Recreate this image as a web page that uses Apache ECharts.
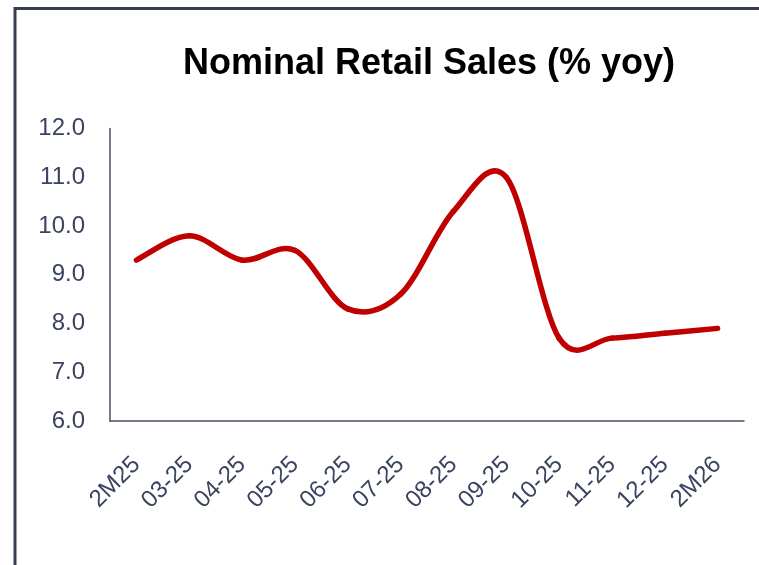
<!DOCTYPE html>
<html>
<head>
<meta charset="utf-8">
<script src="https://cdn.jsdelivr.net/npm/echarts@6.0.0/dist/echarts.min.js"></script>
<style>
html,body{margin:0;padding:0;background:#fff;}
#chart{width:759px;height:565px;}
</style>
</head>
<body>
<div id="chart"></div>
<script>
// Data
const categories = ['2M25','03-25','04-25','05-25','06-25','07-25','08-25','09-25','10-25','11-25','12-25','2M26'];
const retailSalesYoy = [9.3, 9.8, 9.3, 9.5, 8.3, 8.6, 10.3, 11.0, 7.7, 7.7, 7.8, 7.9];
const yMin = 6, yMax = 12, yStep = 1;
const chartTitle = 'Nominal Retail Sales (% yoy)';

const axisColor = '#4a5166';
const labelColor = '#3a4460';
const lineColor = '#C00000';
const fontFamily = "'Liberation Sans', Arial, Helvetica, sans-serif";

const chart = echarts.init(document.getElementById('chart'), null, {renderer: 'canvas'});

// smooth (Excel-like) curve, every segment built from the data through the axes
function renderSegment(params, api) {
  const n = retailSalesYoy.length;
  const i = params.dataIndex;
  if (i >= n - 1) return null;
  const pt = function (k) {
    k = Math.max(0, Math.min(n - 1, k));
    return api.coord([k, retailSalesYoy[k]]);
  };
  const p0 = pt(i - 1), p1 = pt(i), p2 = pt(i + 1), p3 = pt(i + 2);
  const c1 = [p1[0] + (p2[0] - p0[0]) / 6, p1[1] + (p2[1] - p0[1]) / 6];
  const c2 = [p2[0] - (p3[0] - p1[0]) / 6, p2[1] - (p3[1] - p1[1]) / 6];
  return {
    type: 'bezierCurve',
    shape: {x1: p1[0], y1: p1[1], x2: p2[0], y2: p2[1], cpx1: c1[0], cpy1: c1[1], cpx2: c2[0], cpy2: c2[1]},
    style: {stroke: lineColor, lineWidth: 5.5, fill: 'none', lineCap: 'round'}
  };
}

chart.setOption({
  animation: false,
  backgroundColor: '#ffffff',
  title: {
    text: chartTitle,
    left: 424,
    top: 41,
    textAlign: 'center',
    textStyle: {fontFamily: fontFamily, fontWeight: 'bold', fontSize: 36, color: '#000000'}
  },
  graphic: [
    {type: 'line', shape: {x1: 14, y1: 8.5, x2: 759, y2: 8.5}, style: {stroke: '#363d50', lineWidth: 3}},
    {type: 'line', shape: {x1: 15, y1: 7, x2: 15, y2: 565}, style: {stroke: '#363d50', lineWidth: 3}}
  ],
  grid: {left: 110, right: 15, top: 128.5, bottom: 144, containLabel: false},
  xAxis: {
    type: 'category',
    data: categories,
    boundaryGap: true,
    axisLine: {show: true, lineStyle: {color: axisColor, width: 1.5}},
    axisTick: {show: false},
    axisLabel: {rotate: 45, margin: 40, interval: 0, color: labelColor, fontSize: 24, fontFamily: fontFamily},
    splitLine: {show: false}
  },
  yAxis: {
    type: 'value',
    min: yMin,
    max: yMax,
    interval: yStep,
    axisLine: {show: true, lineStyle: {color: axisColor, width: 1.5}},
    axisTick: {show: false},
    axisLabel: {margin: 25, color: labelColor, fontSize: 24, fontFamily: fontFamily,
      formatter: function (v) { return v.toFixed(1); }},
    splitLine: {show: false}
  },
  series: [{
    name: 'Nominal Retail Sales (% yoy)',
    type: 'custom',
    clip: false,
    encode: {x: 0, y: 1},
    data: retailSalesYoy.map(function (v, i) { return [i, v]; }),
    renderItem: renderSegment
  }]
});
</script>
</body>
</html>
